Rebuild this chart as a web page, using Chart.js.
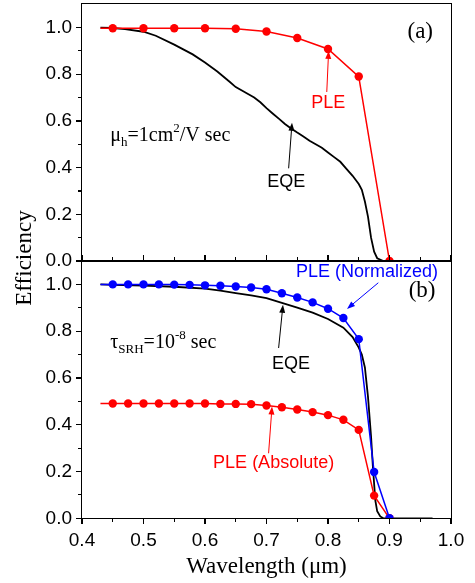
<!DOCTYPE html>
<html>
<head>
<meta charset="utf-8">
<script src="https://cdn.jsdelivr.net/npm/chart.js@4.4.1/dist/chart.umd.min.js"></script>
<style>
  html, body { margin: 0; padding: 0; background: #fff; }
  #wrap { position: relative; width: 475px; height: 583px; overflow: hidden; }
  #wrap canvas { position: absolute; left: 0; top: 0; }
  .axisbox { position: absolute; box-sizing: border-box; border: 1.5px solid #000; pointer-events: none; }
  .tick { position: absolute; background: #000; pointer-events: none; }
</style>
</head>
<body>
<div id="wrap">
  <canvas id="chartA" width="475" height="583"></canvas>
  <canvas id="chartB" width="475" height="583"></canvas>
</div>
<script>
// ---- data ----
// panel (a)
const pleAWl = [0.43, 0.45, 0.5, 0.55, 0.6, 0.65, 0.7, 0.75, 0.8, 0.85, 0.9];
const pleAVal = [0.997, 0.997, 0.997, 0.997, 0.997, 0.995, 0.983, 0.955, 0.908, 0.79, 0.0];

const eqeAWl = [0.43, 0.45, 0.47, 0.5, 0.52, 0.55, 0.58, 0.6, 0.62, 0.64, 0.65, 0.66, 0.67, 0.68,
  0.69, 0.7, 0.71, 0.72, 0.73, 0.74, 0.75, 0.76, 0.77, 0.78, 0.79, 0.8, 0.81, 0.82, 0.83, 0.84,
  0.85, 0.855, 0.86, 0.865, 0.87, 0.875, 0.88, 0.89, 0.97];
const eqeAVal = [1.0, 0.998, 0.993, 0.982, 0.965, 0.927, 0.885, 0.85, 0.812, 0.768, 0.745, 0.73, 0.715, 0.7,
  0.68, 0.655, 0.632, 0.61, 0.587, 0.568, 0.55, 0.533, 0.515, 0.5, 0.485, 0.465, 0.445, 0.425, 0.395, 0.365,
  0.33, 0.305, 0.255, 0.19, 0.1, 0.04, 0.012, 0.0, 0.0];

// panel (b)
const pleBWl = [0.43, 0.45, 0.475, 0.5, 0.525, 0.55, 0.575, 0.6, 0.625, 0.65, 0.675, 0.7, 0.725,
  0.75, 0.775, 0.8, 0.825, 0.85, 0.875, 0.9];
const pleNormVal = [1.0, 1.0, 1.0, 1.0, 1.0, 0.999, 0.998, 0.996, 0.994, 0.991, 0.987, 0.979, 0.962,
  0.944, 0.923, 0.896, 0.856, 0.766, 0.198, 0.0];
const pleAbsVal = [0.491, 0.491, 0.491, 0.491, 0.491, 0.491, 0.491, 0.491, 0.489, 0.489, 0.488, 0.482, 0.475,
  0.465, 0.454, 0.441, 0.421, 0.378, 0.097, 0.0];

const eqeBWl = [0.43, 0.45, 0.5, 0.55, 0.6, 0.625, 0.65, 0.675, 0.7, 0.725, 0.75, 0.775, 0.8, 0.825,
  0.84, 0.85, 0.855, 0.86, 0.865, 0.87, 0.873, 0.877, 0.88, 0.885, 0.89, 0.97];
const eqeBVal = [1.0, 0.998, 0.995, 0.99, 0.982, 0.973, 0.963, 0.953, 0.941, 0.921, 0.901, 0.879, 0.852, 0.815,
  0.775, 0.73, 0.7, 0.645, 0.52, 0.35, 0.22, 0.075, 0.03, 0.008, 0.0, 0.0];

// ---- axes ----
const X_MIN = 0.4, X_MAX = 1.0, Y_MIN = 0, Y_MAX = 1.1;
const xTickValues = [0.4, 0.5, 0.6, 0.7, 0.8, 0.9, 1.0];
const xMinorValues = [0.45, 0.55, 0.65, 0.75, 0.85, 0.95];
const yTickValues = [0.0, 0.2, 0.4, 0.6, 0.8, 1.0];
const yMinorValues = [0.1, 0.3, 0.5, 0.7, 0.9];

const SANS = '"Liberation Sans", Arial, sans-serif';
const SERIF = '"Liberation Serif", "Times New Roman", serif';

function pts(xs, ys) {
  return xs.map((x, i) => ({ x: x, y: ys[i] }));
}

// first point of the PLE curves carries no marker
function radii(xs, r) {
  return xs.map((x, i) => (i === 0 ? 0 : r));
}

// y title spanning both panels
const yTitle = {
  id: "yTitle",
  afterDraw(chart, args, opts) {
    if (!opts.text) return;
    const ctx = chart.ctx;
    ctx.save();
    ctx.translate(25, 258);
    ctx.rotate(-Math.PI / 2);
    ctx.fillStyle = "#000";
    ctx.font = "23px " + SERIF;
    ctx.textAlign = "center";
    ctx.textBaseline = "middle";
    ctx.fillText(opts.text, 0, 0);
    ctx.restore();
  },
};

// text labels and arrows, placed in data units
const notes = {
  id: "notes",
  afterDatasetsDraw(chart, args, opts) {
    const { ctx, scales } = chart;
    const x = scales.x, y = scales.y;
    ctx.save();
    (opts.arrows || []).forEach((ar) => {
      const x0 = x.getPixelForValue(ar.from[0]), y0 = y.getPixelForValue(ar.from[1]);
      const x1 = x.getPixelForValue(ar.to[0]), y1 = y.getPixelForValue(ar.to[1]);
      const ang = Math.atan2(y1 - y0, x1 - x0);
      ctx.strokeStyle = ar.color;
      ctx.fillStyle = ar.color;
      ctx.lineWidth = 1;
      ctx.beginPath();
      ctx.moveTo(x0, y0);
      ctx.lineTo(x1 - 5 * Math.cos(ang), y1 - 5 * Math.sin(ang));
      ctx.stroke();
      ctx.beginPath();
      ctx.moveTo(x1, y1);
      ctx.lineTo(x1 - 8 * Math.cos(ang) + 3 * Math.sin(ang), y1 - 8 * Math.sin(ang) - 3 * Math.cos(ang));
      ctx.lineTo(x1 - 8 * Math.cos(ang) - 3 * Math.sin(ang), y1 - 8 * Math.sin(ang) + 3 * Math.cos(ang));
      ctx.closePath();
      ctx.fill();
    });
    (opts.labels || []).forEach((lb) => {
      ctx.fillStyle = lb.color || "#000";
      ctx.font = lb.font;
      ctx.textAlign = "center";
      ctx.textBaseline = "middle";
      ctx.fillText(lb.text, x.getPixelForValue(lb.at[0]), y.getPixelForValue(lb.at[1]));
    });
    (opts.rich || []).forEach((rt) => {
      let px = x.getPixelForValue(rt.at[0]);
      const base = y.getPixelForValue(rt.at[1]);
      ctx.fillStyle = "#000";
      ctx.textAlign = "left";
      ctx.textBaseline = "alphabetic";
      rt.parts.forEach((p) => {
        const size = p.sub || p.sup ? 13 : 20;
        const dy = p.sub ? 5 : p.sup ? -9 : 0;
        ctx.font = size + "px " + SERIF;
        ctx.fillText(p.t, px, base + dy);
        px += ctx.measureText(p.t).width;
      });
    });
    ctx.restore();
  },
};

function noPad(s) {
  s.paddingTop = 0;
  s.paddingBottom = 0;
  s.paddingLeft = 0;
  s.paddingRight = 0;
}

function yScale() {
  return {
    type: "linear",
    min: Y_MIN,
    max: Y_MAX,
    afterBuildTicks: (s) => { s.ticks = yTickValues.map((v) => ({ value: v })); },
    afterFit: (s) => { s.width = 82; noPad(s); },
    grid: { display: false, drawTicks: false },
    border: { display: false },
    ticks: {
      padding: 10,
      color: "#000",
      font: { family: SANS, size: 19 },
      callback: (v) => v.toFixed(1),
    },
  };
}

const commonOpts = {
  responsive: false,
  animation: false,
  plugins: { legend: { display: false }, tooltip: { enabled: false } },
};

const chartA = new Chart(document.getElementById("chartA"), {
  type: "line",
  data: {
    datasets: [
      {
        label: "PLE",
        data: pts(pleAWl, pleAVal),
        borderColor: "#ff0000",
        backgroundColor: "#ff0000",
        borderWidth: 1.5,
        pointRadius: radii(pleAWl, 4.2),
        pointBorderWidth: 0,
      },
      {
        label: "EQE",
        data: pts(eqeAWl, eqeAVal),
        borderColor: "#000",
        borderWidth: 1.8,
        pointRadius: 0,
      },
    ],
  },
  options: {
    ...commonOpts,
    layout: { padding: { left: 0, right: 24, top: 4, bottom: 322 } },
    scales: {
      x: { type: "linear", min: X_MIN, max: X_MAX, display: false },
      y: yScale(),
    },
    plugins: {
      ...commonOpts.plugins,
      notes: {
        arrows: [
          { from: [0.798, 0.724], to: [0.801, 0.9], color: "#ff0000" },
          { from: [0.736, 0.397], to: [0.7415, 0.592], color: "#000" },
        ],
        labels: [
          { text: "(a)", at: [0.95, 0.982], font: "23px " + SERIF },
          { text: "PLE", at: [0.8005, 0.676], font: "18px " + SANS, color: "#ff0000" },
          { text: "EQE", at: [0.732, 0.339], font: "18px " + SANS },
        ],
        rich: [
          { at: [0.446, 0.514], parts: [{ t: "μ" }, { t: "h", sub: true }, { t: "=1cm" }, { t: "2", sup: true }, { t: "/V sec" }] },
        ],
      },
    },
  },
  plugins: [notes],
});

const chartB = new Chart(document.getElementById("chartB"), {
  type: "line",
  data: {
    datasets: [
      {
        label: "PLE (Normalized)",
        data: pts(pleBWl, pleNormVal),
        borderColor: "#0000ff",
        backgroundColor: "#0000ff",
        borderWidth: 1.5,
        pointRadius: radii(pleBWl, 4.2),
        pointBorderWidth: 0,
      },
      {
        label: "PLE (Absolute)",
        data: pts(pleBWl, pleAbsVal),
        borderColor: "#ff0000",
        backgroundColor: "#ff0000",
        borderWidth: 1.5,
        pointRadius: radii(pleBWl, 4.2),
        pointBorderWidth: 0,
      },
      {
        label: "EQE",
        data: pts(eqeBWl, eqeBVal),
        borderColor: "#000",
        borderWidth: 1.8,
        pointRadius: 0,
      },
    ],
  },
  options: {
    ...commonOpts,
    layout: { padding: { left: 0, right: 24, top: 261, bottom: 0 } },
    scales: {
      x: {
        type: "linear",
        min: X_MIN,
        max: X_MAX,
        afterBuildTicks: (s) => { s.ticks = xTickValues.map((v) => ({ value: v })); },
        afterFit: (s) => { s.height = 64.7; noPad(s); },
        grid: { display: false, drawTicks: false },
        border: { display: false },
        ticks: {
          padding: 11,
          color: "#000",
          maxRotation: 0,
          font: { family: SANS, size: 19 },
          callback: (v) => v.toFixed(1),
        },
        title: {
          display: true,
          text: "Wavelength (μm)",
          color: "#000",
          font: { family: SERIF, size: 23 },
          padding: { top: 0, bottom: 2 },
        },
      },
      y: yScale(),
    },
    plugins: {
      ...commonOpts.plugins,
      yTitle: { text: "Efficiency" },
      notes: {
        arrows: [
          { from: [0.8818, 1.007], to: [0.8309, 0.895], color: "#0000ff" },
          { from: [0.7197, 0.728], to: [0.7268, 0.913], color: "#000" },
          { from: [0.7034, 0.278], to: [0.709, 0.478], color: "#ff0000" },
        ],
        labels: [
          { text: "(b)", at: [0.953, 0.97], font: "23px " + SERIF },
          { text: "PLE (Normalized)", at: [0.8634, 1.051], font: "18px " + SANS, color: "#0000ff" },
          { text: "EQE", at: [0.7398, 0.6605], font: "18px " + SANS },
          { text: "PLE (Absolute)", at: [0.7116, 0.2354], font: "18px " + SANS, color: "#ff0000" },
        ],
        rich: [
          { at: [0.446, 0.729], parts: [{ t: "τ" }, { t: "SRH", sub: true }, { t: "=10" }, { t: "-8", sup: true }, { t: " sec" }] },
        ],
      },
    },
  },
  plugins: [notes, yTitle],
});

// axis box and tick marks as overlay elements, placed from each chart's scales
function addFrame(chart, xInward) {
  const wrap = document.getElementById("wrap");
  const a = chart.chartArea, x = chart.scales.x, y = chart.scales.y;
  const add = (cls, left, top, w, h) => {
    const d = document.createElement("div");
    d.className = cls;
    d.style.left = left + "px";
    d.style.top = top + "px";
    d.style.width = w + "px";
    d.style.height = h + "px";
    wrap.appendChild(d);
  };
  add("axisbox", a.left - 0.75, a.top - 0.75, a.right - a.left + 1.5, a.bottom - a.top + 1.5);
  yTickValues.forEach((v) => add("tick", a.left - 6, y.getPixelForValue(v) - 0.6, 6, 1.2));
  yMinorValues.forEach((v) => add("tick", a.left - 4, y.getPixelForValue(v) - 0.6, 4, 1.2));
  xTickValues.forEach((v) => add("tick", x.getPixelForValue(v) - 0.6, xInward ? a.bottom - 6 : a.bottom, 1.2, 6));
  xMinorValues.forEach((v) => add("tick", x.getPixelForValue(v) - 0.6, xInward ? a.bottom - 4 : a.bottom, 1.2, 4));
}

addFrame(chartA, true);
addFrame(chartB, false);
</script>
</body>
</html>
